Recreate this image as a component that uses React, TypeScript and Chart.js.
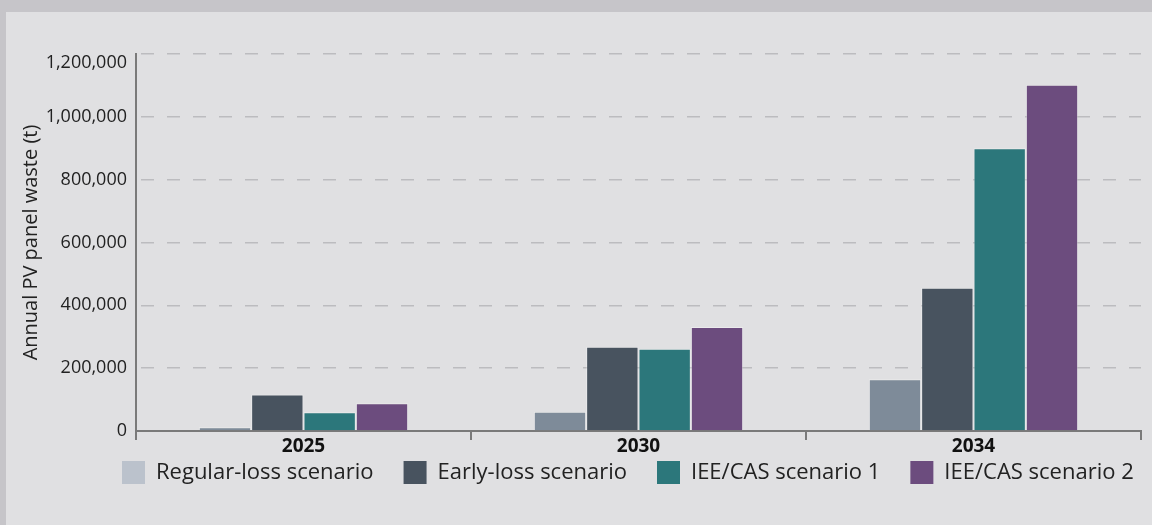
import React, { useEffect, useRef } from 'react';
import { Chart, registerables } from 'chart.js';

Chart.register(...registerables);

const categories = ['2025', '2030', '2034'];
const seriesNames = ['Regular-loss scenario', 'Early-loss scenario', 'IEE/CAS scenario 1', 'IEE/CAS scenario 2'];
const regularLoss = [12000, 61000, 165000];
const earlyLoss = [116000, 268000, 456000];
const ieeCas1 = [60000, 262000, 900000];
const ieeCas2 = [88500, 331000, 1102000];
const yTickValues = [0, 200000, 400000, 600000, 800000, 1000000, 1200000];

const barColors = ['#7e8b99', '#48535f', '#2c777b', '#6c4c7e'];
const legendColors = ['#bbc2cc', '#48535f', '#2c777b', '#6c4c7e'];

const FONT = "'Open Sans', sans-serif";
const LEGEND_PAD = 30;

const bgPlugin = {
  id: 'bgPaint',
  beforeDraw(chart: any) {
    const c = chart.ctx;
    c.save();
    c.fillStyle = '#c6c5c9';
    c.fillRect(0, 0, chart.width, chart.height);
    c.fillStyle = '#e0e0e2';
    c.fillRect(6, 12, chart.width - 6, chart.height - 12);
    c.restore();
  },
};

const legendShift = {
  id: 'legendShift',
  afterLayout(chart: any) {
    const lg = chart.legend;
    if (lg) {
      const h = lg.height;
      lg.left = 122 - LEGEND_PAD;
      lg.right = 1400;
      lg.top = 461 - LEGEND_PAD;
      lg.bottom = lg.top + h;
    }
  },
};

export default function App() {
  const ref = useRef<HTMLCanvasElement | null>(null);

  useEffect(() => {
    if (!ref.current) return;
    const seriesData = [regularLoss, earlyLoss, ieeCas1, ieeCas2];
    const fmt = (v: number) => v.toLocaleString('en-US');
    const maxTick = yTickValues[yTickValues.length - 1];
    const chart = new Chart(ref.current, {
      type: 'bar',
      data: {
        labels: categories,
        datasets: seriesNames.map((name, i) => ({
          label: name,
          data: seriesData[i],
          backgroundColor: barColors[i],
          borderColor: 'rgba(255,255,255,0.35)',
          borderWidth: 1,
          barPercentage: 1,
          categoryPercentage: 0.625,
        })),
      },
      options: {
        responsive: false,
        animation: false,
        devicePixelRatio: 1,
        layout: { padding: { top: 54, right: 11, bottom: 0, left: 0 } },
        plugins: {
          tooltip: { enabled: false },
          legend: {
            position: 'bottom',
            align: 'start',
            labels: {
              boxWidth: 23,
              boxHeight: 23,
              padding: LEGEND_PAD,
              color: '#222',
              font: { family: FONT, size: 22 },
              generateLabels: (ch: any) =>
                (Chart.defaults.plugins.legend.labels as any).generateLabels(ch).map((it: any, i: number) => ({
                  ...it,
                  fillStyle: legendColors[i],
                  strokeStyle: legendColors[i],
                  lineWidth: 0,
                })),
            },
          },
        },
        scales: {
          x: {
            afterFit: (s: any) => {
              s.height = 31;
            },
            grid: {
              drawOnChartArea: false,
              drawTicks: true,
              tickLength: 9,
              color: '#7a7a7a',
              lineWidth: 2,
            },
            border: { display: true, color: '#7a7a7a', width: 2 },
            ticks: {
              padding: -2.5,
              color: '#111',
              font: { family: FONT, size: 19, weight: 'bold', lineHeight: 1 },
            },
          },
          y: {
            min: 0,
            max: maxTick,
            afterFit: (s: any) => {
              s.width = 136;
            },
            afterBuildTicks: (s: any) => {
              s.ticks = yTickValues.map((v) => ({ value: v }));
            },
            grid: {
              drawTicks: false,
              lineWidth: 1.5,
              color: (ctx: any) => (ctx.tick && ctx.tick.value === 0 ? 'rgba(0,0,0,0)' : '#bcbcbf'),
            },
            border: { display: true, color: '#7a7a7a', width: 2, dash: [13, 13], dashOffset: -4 },
            ticks: {
              padding: 9,
              color: '#222',
              font: { family: FONT, size: 18, lineHeight: 1 },
              callback: (v: any) => (v === maxTick ? ['', fmt(v)] : fmt(v)),
            },
            title: {
              display: true,
              text: 'Annual PV panel waste (t)',
              color: '#222',
              font: { family: FONT, size: 20 },
              padding: { top: 19, bottom: 0 },
            },
          },
        },
      },
      plugins: [bgPlugin, legendShift],
    } as any);
    return () => chart.destroy();
  }, []);

  return (
    <div style={{ position: 'fixed', left: 0, top: 0, width: 1152, height: 525 }}>
      <canvas ref={ref} width={1152} height={525} style={{ display: 'block', width: 1152, height: 525 }} />
    </div>
  );
}
